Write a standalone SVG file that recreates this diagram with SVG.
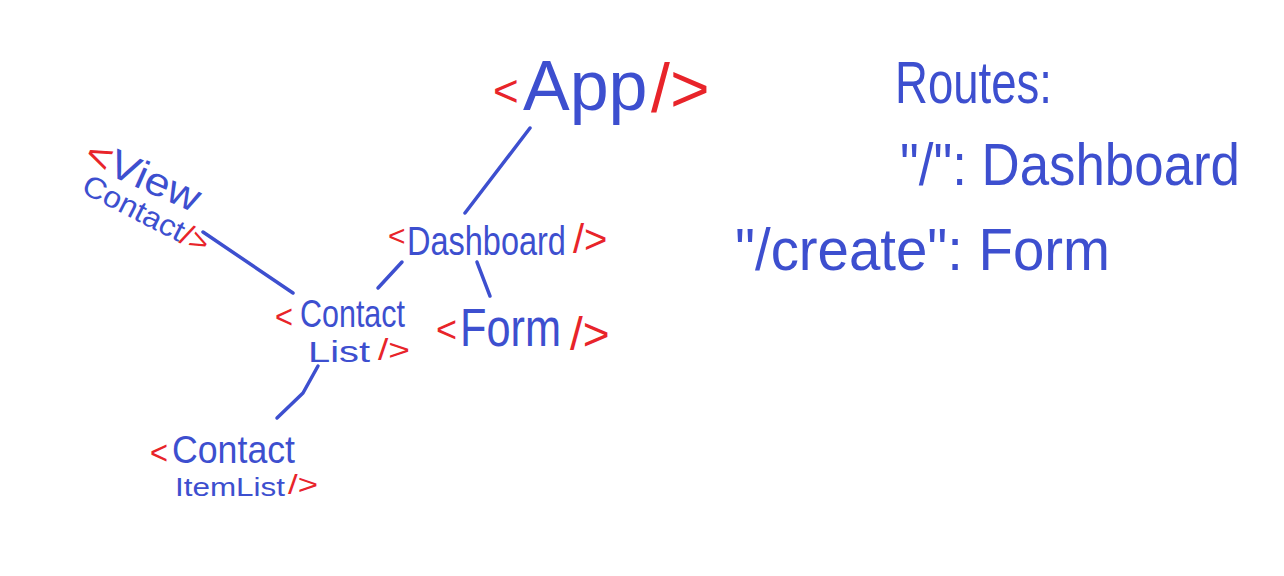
<svg xmlns="http://www.w3.org/2000/svg" width="1284" height="576" viewBox="0 0 1284 576">
<style>
text{font-family:"Liberation Sans",Arial,sans-serif;fill:#3d4fcf;}
text.r{fill:#e8242a;}
.c{stroke:#3d4fcf;stroke-width:3.5;fill:none;stroke-linecap:round;stroke-linejoin:round;}
</style>
<rect width="1284" height="576" fill="#ffffff"/>
<g id="connectors">
<path class="c" d="M530,128 L465,213"/>
<path class="c" d="M402,262 L378,288"/>
<path class="c" d="M477,262 L490,296"/>
<path class="c" d="M203,232 L293,293"/>
<path class="c" d="M318,366 L303,393 L277,418"/>
</g>
<g id="app">
<text class="r" x="493" y="106" font-size="44">&lt;</text>
<text x="523" y="110" font-size="70">App</text>
<text class="r" x="651" y="112" font-size="68">/&gt;</text>
</g>
<g id="dashboard">
<text class="r" x="388" y="246" font-size="30">&lt;</text>
<text transform="translate(407 255) scale(1 1.27)" x="0" y="0" font-size="32.5">Dashboard</text>
<text class="r" x="573" y="253" font-size="40">/&gt;</text>
</g>
<g id="form">
<text class="r" x="436" y="342" font-size="36">&lt;</text>
<text transform="translate(460 346) scale(1 1.22)" x="0" y="0" font-size="43.3">Form</text>
<text class="r" x="570" y="350" font-size="46">/&gt;</text>
</g>
<g id="contact-list">
<text class="r" x="275" y="328" font-size="34" textLength="18" lengthAdjust="spacingAndGlyphs">&lt;</text>
<text x="300" y="327" font-size="38" textLength="105" lengthAdjust="spacingAndGlyphs">Contact</text>
<text x="308" y="362" font-size="30" textLength="62" lengthAdjust="spacingAndGlyphs">List</text>
<text class="r" x="378" y="360" font-size="30" textLength="32" lengthAdjust="spacingAndGlyphs">/&gt;</text>
</g>
<g id="view-contact">
<text transform="rotate(24 82 163)" x="82" y="163" font-size="40" textLength="122" lengthAdjust="spacingAndGlyphs"><tspan fill="#e8242a">&lt;</tspan>View</text>
<text transform="rotate(27 80 192)" x="80" y="192" font-size="30" textLength="138" lengthAdjust="spacingAndGlyphs">Contact<tspan fill="#e8242a">/&gt;</tspan></text>
</g>
<g id="contact-item-list">
<text class="r" x="150" y="464" font-size="34" textLength="18" lengthAdjust="spacingAndGlyphs">&lt;</text>
<text x="172" y="463" font-size="38" textLength="123" lengthAdjust="spacingAndGlyphs">Contact</text>
<text x="175" y="496" font-size="26" textLength="110" lengthAdjust="spacingAndGlyphs">ItemList</text>
<text class="r" x="288" y="494" font-size="28" textLength="30" lengthAdjust="spacingAndGlyphs">/&gt;</text>
</g>
<g id="routes">
<text x="895" y="103" font-size="60" textLength="157" lengthAdjust="spacingAndGlyphs">Routes:</text>
<text x="900" y="185" font-size="60" textLength="340" lengthAdjust="spacingAndGlyphs">"/": Dashboard</text>
<text x="735" y="270" font-size="60" textLength="375" lengthAdjust="spacingAndGlyphs">"/create": Form</text>
</g>
</svg>
